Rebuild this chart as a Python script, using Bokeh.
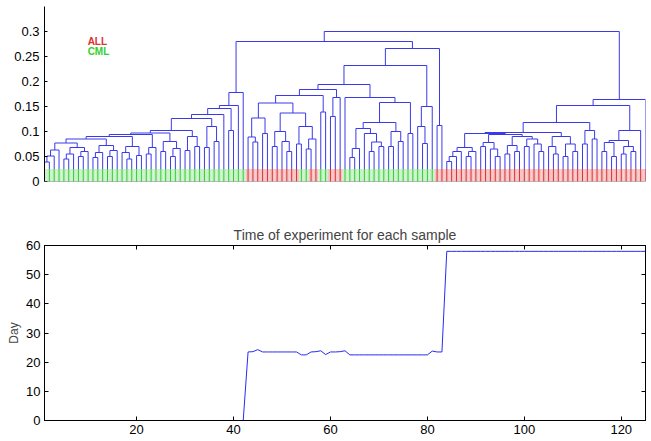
from bokeh.plotting import figure
from bokeh.layouts import column
from bokeh.models import (Range1d, FixedTicker, NumeralTickFormatter, Span, ColumnDataSource,
                          LinearAxis, CustomJSTickFormatter)
from bokeh.core.properties import value
from bokeh.embed import file_html
from bokeh.resources import INLINE

FONT = "Liberation Sans"

# ---------------- data ----------------
# Dendrogram merges as nested [left, right, height]; integers are leaf positions (1..125)
G1_10 = [[[[1, 2, .039], 3, .051], 4, .063], [[[5, 6, .045], 7, .055], [[8, 9, .05], 10, .06], .068], .077]
G11_16 = [[[11, 12, .048], 13, .058], [[14, 15, .05], 16, .062], .072]
G17_21 = [[17, [18, 19, .045], .058], [20, 21, .052], .07]
G22_24 = [[22, 23, .055], 24, .068]
G25_29 = [[25, 26, .06], [[27, 28, .05], 29, .066], .08]
G30_33 = [[30, 31, .062], [32, 33, .07], .09]
G34_37 = [[34, 35, .068], [36, 37, .08], .11]
CML_A = [[[[[[[[[[G1_10, G11_16, .085], G17_21, .09], G22_24, .094], G25_29, .097],
             G30_33, .102], G34_37, .126], 38, .134], [39, 40, .102], .146], 41, .152], 42, .178]

B43_47 = [[43, [44, 45, .079], .089], [46, 47, .096], .127]
B48_57 = [[[48, 49, .07], [50, [51, 52, .06], .08], .1], [[53, 54, .075], [[55, 56, .065], 57, .085], .11], .137]
B58_59 = [58, 59, .139]
B60_62 = [[60, 61, .13], 62, .168]
B64_71 = [[[64, 65, .048], 66, .066], [67, [[68, 69, .06], [70, 71, .07], .079], .096], .106]
B72_75 = [[72, 73, .07], [74, 75, .08], .1]
B63_77 = [63, [[B64_71, B72_75, .118], [76, 77, .096], .158], .168]
B78_81 = [[78, [79, 80, .076], .11], 81, .15]
B43_62 = [[[B43_47, B48_57, .157], B58_59, .172], B60_62, .184]
MIX_B = [[[B43_62, B63_77, .194], B78_81, .232], [82, 83, .112], .266]

R84_90 = [[[[84, 85, .04], 86, .05], 87, .06], [[88, 89, .05], 90, .06], .068]
R91_104 = [[[91, 92, .07], [93, [94, 95, .05], .065], .078],
           [[[96, 97, .055], [98, 99, .06], .072], [[100, 101, .07], [102, [103, 104, .06], .075], .085], .09], .094]
R105_111 = [[105, [106, 107, .055], .07], [[108, 109, .05], [110, 111, .06], .075], .09]
R112_115 = [[112, 113, .075], [114, 115, .085], .102]
R116_123 = [[[116, 117, .06], [118, 119, .05], .078], [[120, 121, .055], [122, 123, .06], .07], .082]
ALL_C = [[[[[R84_90, R91_104, .096], R105_111, .098], R112_115, .118], [R116_123, 124, .102], .152], 125, .164]

ROOT = [[CML_A, MIX_B, .28], ALL_C, .30]

# class of each leaf, as runs (label, count)
class_runs = [("CML", 42), ("ALL", 11), ("CML", 2), ("ALL", 2), ("CML", 2), ("ALL", 3), ("CML", 19), ("ALL", 44)]
class_line = {"ALL": "#e03030", "CML": "#30d030"}
class_fill = {"ALL": "#f6c4c4", "CML": "#c9f2c9"}
stub_height = 0.025

legend_labels = ["ALL", "CML"]
legend_y = [0.28, 0.26]
legend_x = 9.9

top_yticks = [0, 0.05, 0.1, 0.15, 0.2, 0.25, 0.3]

# Day of experiment for each sample (1..125)
days = [0, 0, 0, 0, 0, 0, 0, 0, 0, 0,
        0, 0, 0, 0, 0, 0, 0, 0, 0, 0,
        0, 0, 0, 0, 0, 0, 0, 0, 0, 0,
        0, 0, 0, 0, 0, 0, 0, 0, 0, 0,
        0, 0, 23.5, 23.6, 24.3, 23.5, 23.5, 23.5, 23.5, 23.5,
        23.5, 23.5, 23.5, 22.5, 22.5, 23.5, 23.6, 23.9, 22.6, 23.5,
        23.5, 23.6, 23.9, 22.5, 22.5, 22.5, 22.5, 22.5, 22.5, 22.5,
        22.5, 22.5, 22.5, 22.5, 22.5, 22.5, 22.5, 22.5, 22.5, 22.5,
        23.8, 23.5, 23.5, 58, 58, 58, 58, 58, 58, 58,
        58, 58, 58, 58, 58, 58, 58, 58, 58, 58,
        58, 58, 58, 58, 58, 58, 58, 58, 58, 58,
        58, 58, 58, 58, 58, 58, 58, 58, 58, 58,
        58, 58, 58, 58, 58]
samples = list(range(1, len(days) + 1))
bottom_xticks = [20, 40, 60, 80, 100, 120]
bottom_yticks = [0, 10, 20, 30, 40, 50, 60]

# ---------------- dendrogram geometry ----------------
segs = []


def build(node):
    if isinstance(node, int):
        return float(node), 0.0
    left, right, h = node
    xl, hl = build(left)
    xr, hr = build(right)
    segs.append((xl, hl, xl, h))
    segs.append((xr, hr, xr, h))
    segs.append((xl, h, xr, h))
    return (xl + xr) / 2.0, h


build(ROOT)

leaf_cls = []
for lab, n in class_runs:
    leaf_cls += [lab] * n
leaves = list(range(1, len(leaf_cls) + 1))

BLUE = "#3a3aea"

p1 = figure(output_backend="svg", toolbar_location=None,
            x_range=Range1d(1, 125), y_range=Range1d(0, 0.35),
            frame_width=601, frame_height=175,
            min_border_left=44, min_border_right=6, min_border_top=6, min_border_bottom=10)
p1.xaxis.visible = False
p1.grid.visible = False
p1.outline_line_color = None

p1.segment(x0=[s[0] for s in segs], y0=[s[1] for s in segs],
           x1=[s[2] for s in segs], y1=[s[3] for s in segs],
           line_color=BLUE, line_width=1)

src = ColumnDataSource(dict(x=leaves, top=[stub_height] * len(leaves), bottom=[0] * len(leaves),
                            fill=[class_fill[c] for c in leaf_cls], line=[class_line[c] for c in leaf_cls]))
p1.vbar(x="x", top="top", bottom="bottom", width=1, fill_color="fill", line_color=None, source=src)
p1.segment(x0="x", y0="bottom", x1="x", y1="top", line_color="line", line_width=1, source=src)
p1.add_layout(Span(location=0, dimension="width", line_color="#7a7a7a", line_width=1.2))

p1.text(x=[legend_x] * 2, y=legend_y, text=legend_labels,
        text_color=[class_line[c] for c in legend_labels],
        text_font=value(FONT), text_font_size="10px", text_font_style="bold",
        text_baseline="middle", text_align="left")

ya = p1.yaxis[0]
ya.ticker = FixedTicker(ticks=top_yticks)
ya.formatter = NumeralTickFormatter(format="0.[00]")
ya.major_label_text_font = FONT
ya.major_label_text_font_size = "13px"
ya.major_label_text_color = "black"
ya.major_tick_in = 3
ya.major_tick_out = 0
ya.minor_tick_line_color = None
ya.axis_line_color = "black"
ya.major_label_standoff = 5

# ---------------- bottom plot ----------------
p2 = figure(output_backend="svg", toolbar_location=None,
            x_range=Range1d(1, 125), y_range=Range1d(0, 60),
            frame_width=601, frame_height=175,
            min_border_left=44, min_border_right=6, min_border_top=54, min_border_bottom=0,
            title="Time of experiment for each sample")
p2.title.align = "center"
p2.title.text_font = FONT
p2.title.text_font_size = "14px"
p2.title.text_font_style = "normal"
p2.title.standoff = 6
p2.grid.visible = False
p2.outline_line_color = "black"
p2.line(samples, days, line_color="#2a2af5", line_width=1)

blank = CustomJSTickFormatter(code="return ''")
p2.add_layout(LinearAxis(ticker=FixedTicker(ticks=bottom_yticks), formatter=blank,
                         major_label_text_font_size="0px", major_label_standoff=0), "right")
p2.add_layout(LinearAxis(ticker=FixedTicker(ticks=bottom_xticks), formatter=blank,
                         major_label_text_font_size="0px", major_label_standoff=0), "above")

for ax in p2.xaxis + p2.yaxis:
    ax.major_tick_in = 4
    ax.major_tick_out = 0
    ax.minor_tick_line_color = None
    ax.axis_line_color = "black"
    ax.major_tick_line_color = "black"

for ax, ticks in ((p2.below[0], bottom_xticks), (p2.left[0], bottom_yticks)):
    ax.ticker = FixedTicker(ticks=ticks)
    ax.major_label_text_font = FONT
    ax.major_label_text_font_size = "13px"
    ax.major_label_text_color = "black"
    ax.major_label_standoff = 4

p2.left[0].axis_label = "Day"
p2.left[0].axis_label_text_font = FONT
p2.left[0].axis_label_text_font_size = "12px"
p2.left[0].axis_label_text_font_style = "normal"
p2.left[0].axis_label_standoff = 2

layout = column(p1, p2, spacing=0)
open("out.html", "w").write(file_html(layout, INLINE))
